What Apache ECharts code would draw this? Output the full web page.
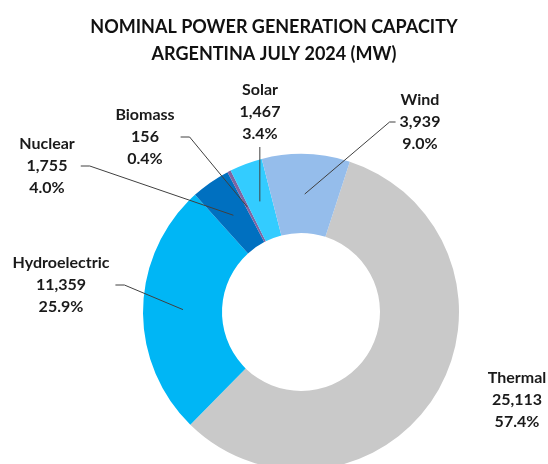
<!DOCTYPE html>
<html>
<head>
<meta charset="utf-8">
<script src="https://cdn.jsdelivr.net/npm/echarts@6/dist/echarts.min.js"></script>
<style>
  html, body { margin: 0; padding: 0; background: #fff; }
  #chart { width: 548px; height: 464px; }
</style>
</head>
<body>
<div id="chart"></div>
<script>
// data, clockwise from the top-right
var sources = ['Thermal', 'Hydroelectric', 'Nuclear', 'Biomass', 'Solar', 'Wind'];
var capacityMW = [25113, 11359, 1755, 156, 1467, 3939];
var sliceColors = ['#C9C9C9', '#00B6F5', '#0070C0', '#8064A2', '#33CCFF', '#95BDEB'];

// where each label sits (centre of the text block)
var labelPos = [[517, 400], [61, 285], [47, 166], [145, 137], [260, 112], [420, 122]];

var total = capacityMW.reduce(function (a, b) { return a + b; }, 0);
var center = [301, 312];

function labelText(p) {
  var v = capacityMW[p.dataIndex];
  return p.name + '\n' + v.toLocaleString('en-US') + '\n' + (v / total * 100).toFixed(1) + '%';
}

var chart = echarts.init(document.getElementById('chart'));
chart.setOption({
  animation: false,
  title: {
    text: 'NOMINAL POWER GENERATION CAPACITY\nARGENTINA JULY 2024 (MW)',
    left: 'center',
    top: 9,
    textStyle: {
      fontFamily: 'Lato',
      fontWeight: 'bold',
      fontSize: 18,
      lineHeight: 27,
      color: '#111'
    }
  },
  series: [
    {
      type: 'pie',
      center: center,
      radius: [79, 158],
      startAngle: 72,
      silent: true,
      z: 1,
      label: { show: false },
      labelLine: { show: false },
      data: sources.map(function (s, i) {
        return { name: s, value: capacityMW[i], itemStyle: { color: sliceColors[i] } };
      })
    },
    {
      // invisible pie whose rim is the middle of the ring: labels + leader lines hang off it
      type: 'pie',
      center: center,
      radius: [0, 118],
      startAngle: 72,
      silent: true,
      z: 5,
      itemStyle: { color: 'rgba(0,0,0,0)' },
      label: {
        show: true,
        position: 'outside',
        formatter: labelText,
        fontFamily: 'Lato',
        fontWeight: 'bold',
        fontSize: 16,
        lineHeight: 22,
        color: '#1a1a1a'
      },
      labelLine: {
        show: true,
        length: 10,
        length2: 10,
        lineStyle: { color: '#404040', width: 1 }
      },
      labelLayout: function (p) {
        var pos = labelPos[p.dataIndex];
        var w = p.labelRect.width, h = p.labelRect.height;
        var out = { x: pos[0], y: pos[1], align: 'center', verticalAlign: 'middle' };
        var pts = p.labelLinePoints;
        if (pts && p.dataIndex !== 0) {
          var s = pts[0];
          if (Math.abs(s[0] - pos[0]) < 15) {
            out.labelLinePoints = [s, [s[0], pos[1] + h / 2 + 2], [s[0], pos[1] + h / 2 + 2]];
          } else if (s[0] > pos[0]) {
            var ex = pos[0] + w / 2 + 6;
            out.labelLinePoints = [s, [ex + 9, pos[1]], [ex, pos[1]]];
          } else {
            var lx = pos[0] - w / 2 - 4;
            out.labelLinePoints = [s, [lx - 6, pos[1]], [lx, pos[1]]];
          }
        }
        return out;
      },
      data: sources.map(function (s, i) {
        var d = { name: s, value: capacityMW[i] };
        if (i === 0) d.labelLine = { show: false };
        return d;
      })
    }
  ]
});
</script>
</body>
</html>
